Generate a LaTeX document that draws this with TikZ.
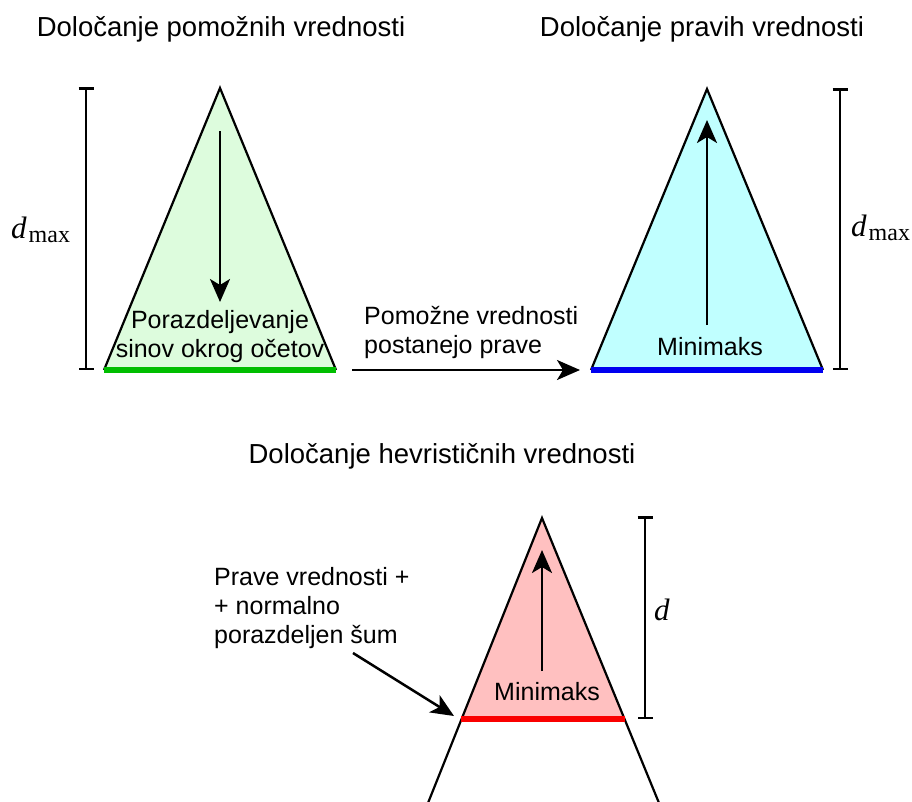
\documentclass[tikz,border=0pt]{standalone}
\usepackage{fontspec}
\setmainfont{Liberation Sans}
\newfontfamily\serifm{Liberation Serif}
\usetikzlibrary{arrows.meta}
\definecolor{gfill}{RGB}{221,252,221}
\definecolor{cfill}{RGB}{192,255,255}
\definecolor{rfill}{RGB}{255,192,192}
\definecolor{gline}{RGB}{0,190,0}
\definecolor{bline}{RGB}{0,0,240}
\definecolor{rline}{RGB}{250,0,0}
\tikzset{
  title/.style={font=\fontsize{27.5}{32}\selectfont, anchor=base, inner sep=0pt},
  body/.style={font=\fontsize{25}{29}\selectfont, inner sep=0pt},
  tri/.style={draw=black, line width=2.2pt, line join=miter},
  baseln/.style={line width=5.5pt},
  scalebar/.style={line width=2.5pt, {Bar[width=15pt]}-{Bar[width=15pt]}},
  flow/.style={line width=2.5pt, -{Stealth[length=23pt,width=20pt,inset=6pt]}},
  lbl/.style={inner sep=0pt, anchor=base west},
}
\newcommand{\dmax}{{\serifm\fontsize{31}{31}\selectfont\itshape d}\kern2pt\raisebox{-4pt}{\serifm\fontsize{24}{24}\selectfont max}}
\begin{document}
\begin{tikzpicture}[x=1pt,y=-1pt]
\useasboundingbox (0,0) rectangle (912,801);
\fill[white] (0,0) rectangle (912,801);

% titles
\node[title] (t1) at (221,36) {Določanje pomožnih vrednosti};
\node[title] (t2) at (702,36) {Določanje pravih vrednosti};
\node[title] (t3) at (442,463) {Določanje hevrističnih vrednosti};

% triangle 1 (green)
\coordinate (a1) at (220,88);
\coordinate (l1) at (104,370);
\coordinate (r1) at (336,370);
\fill[gfill] (a1) -- (l1) -- (r1) -- cycle;
\draw[tri] (l1) -- (a1) -- (r1);
\draw[gline, baseln] (l1) -- (r1);
\coordinate (s1) at (220,131);
\coordinate (e1) at (220,302);
\draw[flow] (s1) -- (e1);
\node[body, align=center, anchor=base] (p1) at (220,357) {Porazdeljevanje\\sinov okrog očetov};

% scale bar left
\coordinate (bl1) at (86,87);
\coordinate (bl2) at (86,370);
\draw[scalebar] (bl1) -- (bl2);
\node[lbl] (dm1) at (11,238) {\dmax};

% triangle 2 (cyan)
\coordinate (a2) at (707,89);
\coordinate (l2) at (591,370);
\coordinate (r2) at (823,370);
\fill[cfill] (a2) -- (l2) -- (r2) -- cycle;
\draw[tri] (l2) -- (a2) -- (r2);
\draw[bline, baseln] (l2) -- (r2);
\coordinate (s2) at (707,325);
\coordinate (e2) at (707,120);
\draw[flow] (s2) -- (e2);
\node[body, anchor=base] (m2) at (710,355) {Minimaks};

% scale bar right
\coordinate (br1) at (840,88);
\coordinate (br2) at (840,370);
\draw[scalebar] (br1) -- (br2);
\node[lbl] (dm2) at (851,236) {\dmax};

% middle arrow
\coordinate (ms) at (352,370);
\coordinate (me) at (580,370);
\draw[flow] (ms) -- (me);
\node[body, align=left, lbl] (mt) at (364,353) {Pomožne vrednosti\\postanejo prave};

% triangle 3 (red)
\coordinate (a3) at (542,518);
\coordinate (l3) at (461,719);
\coordinate (r3) at (625,719);
\coordinate (lb3) at (428,803);
\coordinate (rb3) at (659,803);
\fill[rfill] (a3) -- (l3) -- (r3) -- cycle;
\draw[tri] (lb3) -- (a3) -- (rb3);
\draw[rline, baseln] (l3) -- (r3);
\coordinate (s3) at (542,671);
\coordinate (e3) at (542,550);
\draw[flow] (s3) -- (e3);
\node[body, anchor=base] (m3) at (547,700) {Minimaks};

% scale bar d
\coordinate (bd1) at (645,516);
\coordinate (bd2) at (645,719);
\draw[scalebar] (bd1) -- (bd2);
\node[lbl] (dd) at (654,620) {\serifm\fontsize{31}{31}\selectfont\itshape d};

% noise note
\node[body, align=left, lbl] (nt) at (214,643) {Prave vrednosti +\\+ normalno\\porazdeljen šum};
\coordinate (ns) at (353,653);
\coordinate (ne) at (454,716);
\draw[flow] (ns) -- (ne);
\end{tikzpicture}
\end{document}
